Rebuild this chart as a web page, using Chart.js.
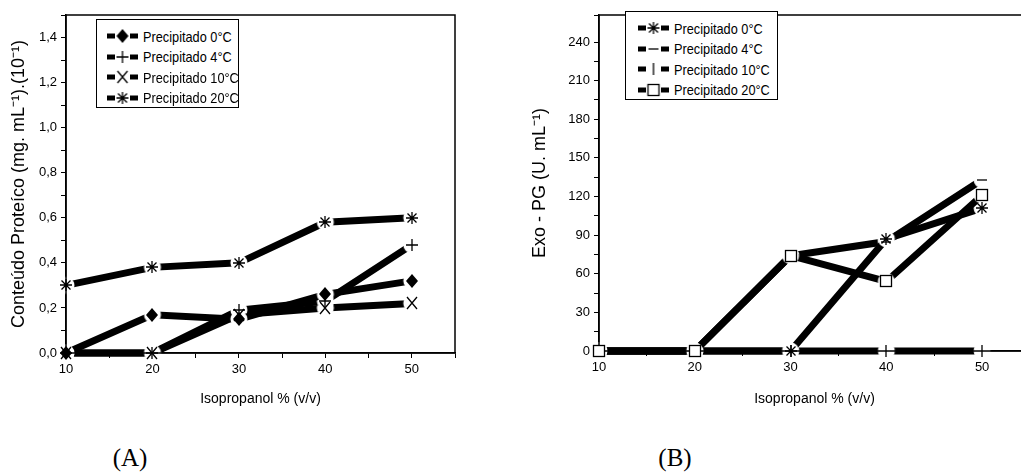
<!DOCTYPE html>
<html>
<head>
<meta charset="utf-8">
<script src="https://cdn.jsdelivr.net/npm/chart.js@4.4.0/dist/chart.umd.min.js"></script>
<style>
    body { margin: 0; width: 1021px; height: 472px; overflow: hidden; background: #fff; position: relative; }
    #chartA, #chartB { position: absolute; top: 0; }
    #chartA { left: 0; }
    #chartB { left: 500px; }
    .legend { position: absolute; border: 1px solid #000; background: #fff; color: #000;
              font: 15px 'Liberation Sans', Arial, sans-serif; box-sizing: border-box; }
    .legend .row { height: 20.5px; display: flex; align-items: center; white-space: nowrap; }
    .legend .row canvas { margin-right: 5px; }
    .legend .row span { display: inline-block; transform: scaleX(0.85); transform-origin: left center; }
    .lbl { position: absolute; width: 60px; text-align: center; line-height: 28px;
           font: 25px 'Liberation Serif', 'Times New Roman', serif; }
</style>
</head>
<body>
<canvas id="chartA" width="470" height="420"></canvas>
<canvas id="chartB" width="545" height="420"></canvas>
<div class="legend" id="legendA" style="left:96px;top:19px;width:143px;height:89px;padding:6px 0 0 10px;"></div>
<div class="legend" id="legendB" style="left:625px;top:11px;width:153px;height:89px;padding:6px 0 0 12px;"></div>
<div class="lbl" style="left:100px;top:444px;">(A)</div>
<div class="lbl" style="left:645px;top:444px;">(B)</div>

<script>
    // data
    var isopropanol = [10, 20, 30, 40, 50];
    var seriesNames = ['Precipitado 0°C', 'Precipitado 4°C', 'Precipitado 10°C', 'Precipitado 20°C'];

    // (A) protein content
    var proteina0 = [0, 0.17, 0.15, 0.26, 0.32];
    var proteina4 = [0, 0, 0.19, 0.23, 0.48];
    var proteina10 = [0, 0, 0.17, 0.20, 0.22];
    var proteina20 = [0.30, 0.38, 0.40, 0.58, 0.60];

    // (B) exo-PG activity
    var exoPg0 = [0, 0, 0, 87, 111];
    var exoPg4 = [0, 0, 74, 85, 133];
    var exoPg10 = [0, 0, 0, 0, 0];
    var exoPg20 = [0, 0, 74, 54, 121];

    var markersA = ['diamond', 'plus', 'x', 'star'];
    var markersB = ['star', 'dash', 'bar', 'square'];
    // lower number is drawn on top
    var drawOrderA = [0, 1, 2, 3];
    var drawOrderB = [1, 2, 3, 0];

    var tickFont = { family: "'Liberation Sans', Arial, sans-serif", size: 13 };
    var titleFamily = "'Liberation Sans', Arial, sans-serif";

    // draws a marker glyph, optionally with a white halo so lines stop short of it
    function marker(kind, halo) {
        var s = 26, m = s / 2;
        var c = document.createElement('canvas');
        c.width = s; c.height = s;
        var g = c.getContext('2d');
        if (halo) {
            g.fillStyle = '#fff';
            g.beginPath(); g.arc(m, m, halo, 0, Math.PI * 2); g.fill();
            return c;
        }
        g.strokeStyle = '#000'; g.fillStyle = '#000'; g.lineWidth = 1.3;
        g.beginPath();
        if (kind === 'diamond') {
            g.moveTo(m, m - 7); g.lineTo(m + 6, m); g.lineTo(m, m + 7); g.lineTo(m - 6, m); g.closePath();
            g.fill();
        } else if (kind === 'plus') {
            g.moveTo(m - 6, m); g.lineTo(m + 6, m); g.moveTo(m, m - 6); g.lineTo(m, m + 6); g.stroke();
        } else if (kind === 'x') {
            g.moveTo(m - 5, m - 6); g.lineTo(m + 5, m + 6); g.moveTo(m + 5, m - 6); g.lineTo(m - 5, m + 6); g.stroke();
        } else if (kind === 'star') {
            g.moveTo(m - 6, m); g.lineTo(m + 6, m); g.moveTo(m, m - 6); g.lineTo(m, m + 6);
            g.moveTo(m - 4.5, m - 4.5); g.lineTo(m + 4.5, m + 4.5); g.moveTo(m + 4.5, m - 4.5); g.lineTo(m - 4.5, m + 4.5);
            g.stroke();
        } else if (kind === 'dash') {
            g.moveTo(m - 5, m); g.lineTo(m + 5, m); g.stroke();
        } else if (kind === 'bar') {
            g.moveTo(m, m - 6); g.lineTo(m, m + 6); g.stroke();
        } else if (kind === 'square') {
            g.fillStyle = '#fff';
            g.fillRect(m - 5.5, m - 5.5, 11, 11);
            g.strokeRect(m - 5.5, m - 5.5, 11, 11);
        }
        return c;
    }

    function points(values) {
        return isopropanol.map(function(x, i) { return { x: x, y: values[i] }; });
    }

    function makeDatasets(seriesList, markers, drawOrder) {
        return seriesList.map(function(values, i) {
            return {
                label: seriesNames[i],
                data: points(values),
                borderColor: '#000',
                borderWidth: 7,
                borderCapStyle: 'butt',
                tension: 0,
                // the library draws only the white gap; the glyph goes on top in the plugin below
                pointStyle: marker(markers[i], 8.5),
                glyph: marker(markers[i], 0),
                pointRadius: 8,
                order: drawOrder[i],
                clip: false
            };
        });
    }

    // plot frame drawn over the line gaps, then the marker glyphs on top of everything
    var frameAndGlyphs = {
        id: 'frameAndGlyphs',
        afterDatasetsDraw: function(chart) {
            var a = chart.chartArea, g = chart.ctx;
            g.save();
            g.strokeStyle = '#000';
            g.lineWidth = 1.5;
            g.strokeRect(a.left, a.top, a.right - a.left, a.bottom - a.top);
            var metas = chart.getSortedVisibleDatasetMetas();
            for (var k = metas.length - 1; k >= 0; k--) {
                var glyph = chart.data.datasets[metas[k].index].glyph;
                metas[k].data.forEach(function(pt) {
                    g.drawImage(glyph, Math.round(pt.x) - 13, Math.round(pt.y) - 13);
                });
            }
            g.restore();
        }
    };

    function xAxis(height) {
        return {
            type: 'linear', min: 10, max: 55,
            ticks: {
                stepSize: 5, autoSkip: false, maxRotation: 0, color: '#000', padding: 4,
                font: tickFont,
                callback: function(v) { return (v % 10 === 0 && v <= 50) ? String(v) : ''; }
            },
            grid: { display: true, drawOnChartArea: false, tickLength: 5, color: '#000', lineWidth: 1 },
            border: { color: '#000', width: 1.5 },
            title: { display: true, text: 'Isopropanol % (v/v)', color: '#000',
                     font: { family: titleFamily, size: 14 }, padding: { top: 0, bottom: 12 } },
            afterFit: function(s) { s.height = height; }
        };
    }

    function yAxis(min, max, step, labelEvery, fmt, title, width, titlePad) {
        return {
            type: 'linear', min: min, max: max,
            ticks: {
                stepSize: step, autoSkip: false, color: '#000', padding: 4,
                font: tickFont,
                callback: function(v) {
                    var n = Math.round(v / step);
                    return n % labelEvery === 0 ? fmt(v) : '';
                }
            },
            grid: { display: true, drawOnChartArea: false, tickLength: 5, color: '#000', lineWidth: 1 },
            border: { color: '#000', width: 1.5 },
            title: { display: true, text: title, color: '#000',
                     font: { family: titleFamily, size: 18 },
                     padding: { top: titlePad, bottom: 0 } },
            afterFit: function(s) { s.width = width; }
        };
    }

    var commonPlugins = { legend: { display: false }, tooltip: { enabled: false } };

    var ctxA = document.getElementById('chartA').getContext('2d');
    var chartA = new Chart(ctxA, {
        type: 'line',
        data: { datasets: makeDatasets([proteina0, proteina4, proteina10, proteina20], markersA, drawOrderA) },
        options: {
            responsive: false,
            animation: false,
            layout: { padding: { top: 14, right: 14, left: 0, bottom: 0 } },
            scales: {
                x: xAxis(67),
                y: yAxis(0, 1.5, 0.1, 2, function(v) { return v.toFixed(1).replace('.', ','); },
                         'Conteúdo Proteíco (mg. mL⁻¹).(10⁻¹)', 66, 8)
            },
            plugins: commonPlugins
        },
        plugins: [frameAndGlyphs]
    });

    var ctxB = document.getElementById('chartB').getContext('2d');
    var chartB = new Chart(ctxB, {
        type: 'line',
        data: { datasets: makeDatasets([exoPg0, exoPg4, exoPg10, exoPg20], markersB, drawOrderB) },
        options: {
            responsive: false,
            animation: false,
            layout: { padding: { top: 7, right: 12, left: 0, bottom: 0 } },
            scales: {
                x: xAxis(69),
                y: yAxis(0, 261, 15, 2, function(v) { return String(Math.round(v)); },
                         'Exo - PG (U. mL⁻¹)', 99, 29)
            },
            plugins: commonPlugins
        },
        plugins: [frameAndGlyphs]
    });

    // legends: thick line sample with the marker in the middle
    function buildLegend(id, markers) {
        var box = document.getElementById(id);
        seriesNames.forEach(function(name, i) {
            var row = document.createElement('div');
            row.className = 'row';
            var c = document.createElement('canvas');
            c.width = 31; c.height = 14;
            var g = c.getContext('2d');
            g.fillStyle = '#000';
            g.fillRect(0, 4.5, 8, 5);
            g.fillRect(23, 4.5, 8, 5);
            g.drawImage(marker(markers[i], 0), 15.5 - 13, 7 - 13);
            row.appendChild(c);
            var t = document.createElement('span');
            t.textContent = name;
            row.appendChild(t);
            box.appendChild(row);
        });
    }
    buildLegend('legendA', markersA);
    buildLegend('legendB', markersB);
</script>
</body>
</html>
